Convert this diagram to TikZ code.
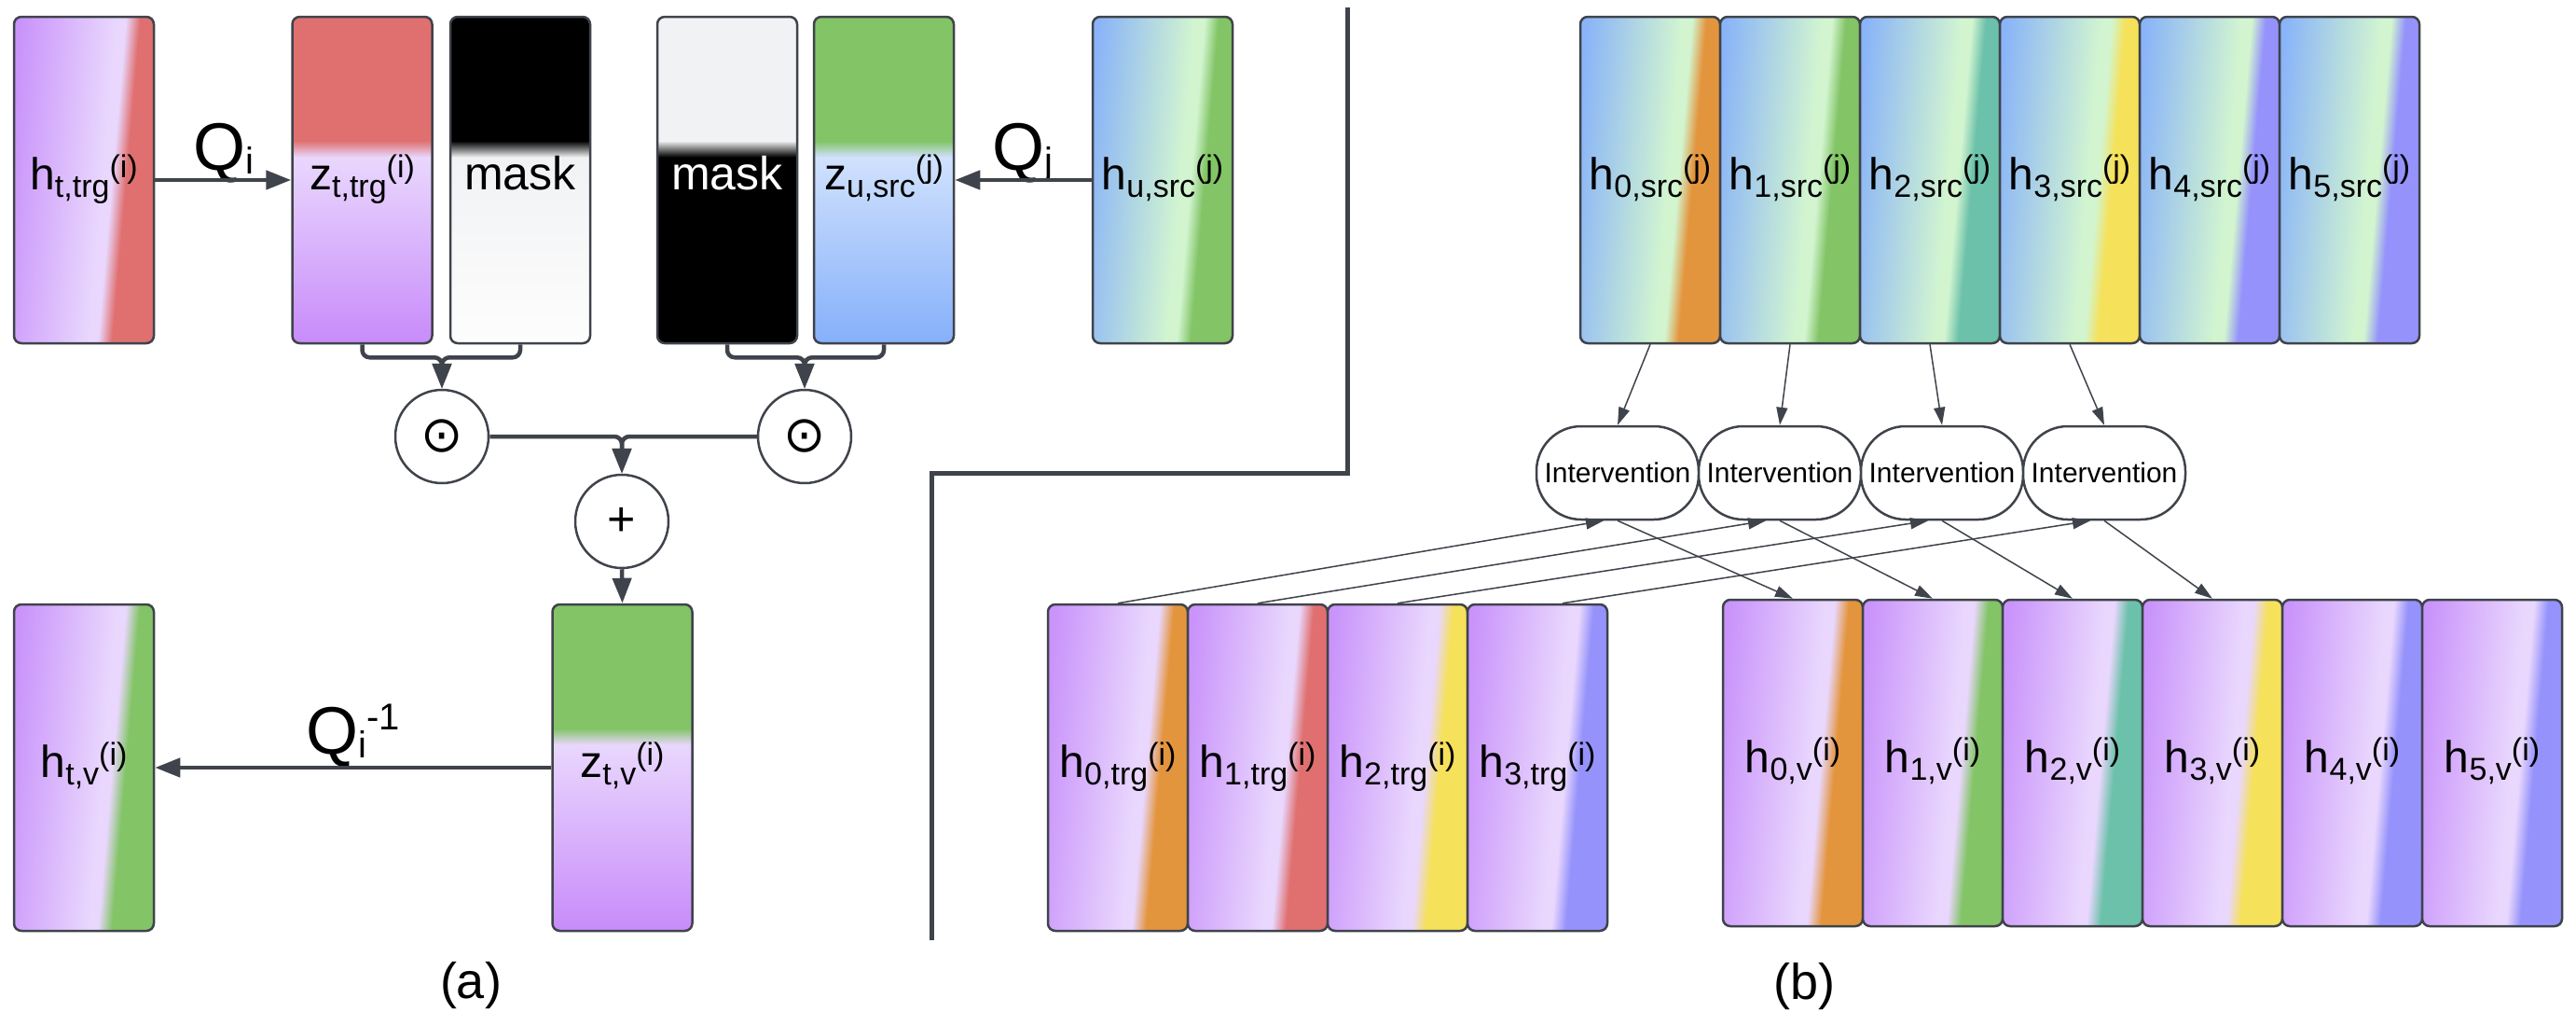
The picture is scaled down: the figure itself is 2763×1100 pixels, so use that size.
\documentclass[tikz,border=0pt]{standalone}
\usepackage{fontspec}
\setmainfont{Liberation Sans}
\newfontfamily\djv{DejaVu Sans}
\usetikzlibrary{arrows.meta}
\definecolor{edge}{HTML}{3F434B}
\definecolor{pur}{HTML}{C993FB}
\definecolor{purb}{HTML}{C88BFA}
\definecolor{lav}{HTML}{E9D7FD}
\definecolor{cred}{HTML}{E07070}
\definecolor{cgreen}{HTML}{82C466}
\definecolor{corange}{HTML}{E3953E}
\definecolor{cteal}{HTML}{6CC1AA}
\definecolor{cyellow}{HTML}{F5E15A}
\definecolor{cviolet}{HTML}{9593FB}
\definecolor{cblue}{HTML}{8AB4F8}
\definecolor{mint}{HTML}{D2F5D0}
\definecolor{zblue}{HTML}{85B0FA}
\definecolor{zlblue}{HTML}{D0E1FD}
\definecolor{mgray}{HTML}{F1F2F4}
\definecolor{mwhite}{HTML}{FDFDFD}
\newcommand\mkh[4]{\pgfdeclarehorizontalshading{#1}{100bp}{color(0bp)=(#2); color(25bp)=(#2); color(56bp)=(#3); color(59bp)=(#3); color(63.5bp)=(#4); color(100bp)=(#4)}}
\newcommand\mkz[4]{\pgfdeclareverticalshading{#1}{100bp}{color(0bp)=(#2); color(25bp)=(#2); color(53.5bp)=(#3); color(56bp)=(#4); color(100bp)=(#4)}}
\mkh{shHtrg}{pur}{lav}{cred}
\mkh{shHtv}{pur}{lav}{cgreen}
\mkh{shHsrc}{cblue}{mint}{cgreen}
\mkh{shSa}{cblue}{mint}{corange}
\mkh{shSb}{cblue}{mint}{cgreen}
\mkh{shSc}{cblue}{mint}{cteal}
\mkh{shSd}{cblue}{mint}{cyellow}
\mkh{shSe}{cblue}{mint}{cviolet}
\mkh{shTa}{pur}{lav}{corange}
\mkh{shTb}{pur}{lav}{cred}
\mkh{shTc}{pur}{lav}{cyellow}
\mkh{shTd}{pur}{lav}{cviolet}
\mkh{shVb}{pur}{lav}{cgreen}
\mkh{shVc}{pur}{lav}{cteal}
\mkz{shZtrg}{purb}{lav}{cred}
\mkz{shZtv}{purb}{lav}{cgreen}
\mkz{shZsrc}{zblue}{zlblue}{cgreen}
\mkz{shMa}{mwhite}{mgray}{black}
\mkz{shMb}{black}{black}{mgray}
\newcommand\vlab[3]{#1\raisebox{-8pt}{\fontsize{34}{34}\selectfont #2}\raisebox{13pt}{\fontsize{34}{34}\selectfont (#3)}}
\tikzset{
  hbox/.style={rectangle, minimum width=150pt, minimum height=350pt, inner sep=0pt,
    rounded corners=8pt, draw=edge, line width=2.5pt, shading=#1, shading angle=-5,
    text height=30pt, text depth=10pt, font=\fontsize{48}{50}\selectfont},
  zbox/.style={hbox=#1, shading angle=0},
  ivbox/.style={rectangle, rounded corners=48pt, minimum width=174pt, minimum height=100pt,
    draw=edge, line width=2.5pt, fill=white, inner sep=0pt, font=\fontsize{30}{32}\selectfont},
  opnode/.style={circle, minimum size=100pt, draw=edge, line width=2.5pt, fill=white, inner sep=0pt},
  bigarrow/.style={draw=edge, line width=4.5pt, rounded corners=8pt, -{Triangle[length=27pt,width=20pt]}},
  smallarrow/.style={draw=edge, line width=1.5pt, -{Triangle[length=19pt,width=12pt]}},
  qlab/.style={anchor=base, inner sep=0pt, font=\fontsize{72}{74}\selectfont},
  caption/.style={inner sep=0pt, font=\fontsize{54}{56}\selectfont},
}
\begin{document}
\begin{tikzpicture}[x=1pt,y=-1pt]
\useasboundingbox (0,0) rectangle (2763,1100);
% ---------- panel (a) ----------
\node[hbox=shHtrg] (htrg) at (90,193) {\vlab{h}{t,trg}{i}};
\node[zbox=shZtrg] (ztrg) at (388.5,193) {\vlab{z}{t,trg}{i}};
\node[zbox=shMa, font=\fontsize{50}{52}\selectfont] (m1) at (558,193) {mask};
\node[zbox=shMb, font=\fontsize{50}{52}\selectfont, text=white] (m2) at (780,193) {mask};
\node[zbox=shZsrc] (zsrc) at (948,193) {\vlab{z}{u,src}{j}};
\node[hbox=shHsrc] (hsrc) at (1247,193) {\vlab{h}{u,src}{j}};
\node[opnode] (od1) at (474,468) {\djv\fontsize{54}{56}\selectfont ⊙};
\node[opnode] (od2) at (863,468) {\djv\fontsize{54}{56}\selectfont ⊙};
\node[opnode] (plus) at (667,559) {\fontsize{52}{52}\selectfont +};
\node[hbox=shHtv] (htv) at (90,823) {\vlab{h}{t,v}{i}};
\node[zbox=shZtv] (ztv) at (667.5,823) {\vlab{z}{t,v}{i}};
\node[qlab] (qi) at (240,182) {Q\raisebox{-4pt}{\fontsize{40}{40}\selectfont i}};
\node[qlab] (qj) at (1097,182) {Q\raisebox{-4pt}{\fontsize{40}{40}\selectfont j}};
\node[qlab] (qinv) at (379,808) {Q\raisebox{-4pt}{\fontsize{40}{40}\selectfont i}\raisebox{26pt}{\fontsize{40}{40}\selectfont -1}};
\draw[bigarrow] (htrg.east) -- (ztrg.west);
\draw[bigarrow] (hsrc.west) -- (zsrc.east);
\draw[bigarrow] (ztv.west) -- (htv.east);
\draw[bigarrow] (ztrg.south) -- ++(0,14) -| (od1.north);
\draw[bigarrow] (m1.south) -- ++(0,14) -| (od1.north);
\draw[bigarrow] (m2.south) -- ++(0,14) -| (od2.north);
\draw[bigarrow] (zsrc.south) -- ++(0,14) -| (od2.north);
\draw[bigarrow] (od1.east) -| (plus.north);
\draw[bigarrow] (od2.west) -| (plus.north);
\draw[bigarrow] (plus.south) -- (ztv.north);
\node[caption] (capa) at (505,1057) {(a)};
% ---------- divider ----------
\draw[edge, line width=5pt] (1445,8) -- (1445,507) -- (999,507) -- (999,1008);
% ---------- panel (b) ----------
\node[hbox=shSa] (s0) at (1770,193) {\vlab{h}{0,src}{j}};
\node[hbox=shSb] (s1) at (1920,193) {\vlab{h}{1,src}{j}};
\node[hbox=shSc] (s2) at (2070,193) {\vlab{h}{2,src}{j}};
\node[hbox=shSd] (s3) at (2220,193) {\vlab{h}{3,src}{j}};
\node[hbox=shSe] (s4) at (2370,193) {\vlab{h}{4,src}{j}};
\node[hbox=shSe] (s5) at (2520,193) {\vlab{h}{5,src}{j}};
\node[ivbox] (i0) at (1735,507) {Intervention};
\node[ivbox] (i1) at (1909,507) {Intervention};
\node[ivbox] (i2) at (2083,507) {Intervention};
\node[ivbox] (i3) at (2257,507) {Intervention};
\node[hbox=shTa] (t0) at (1199,823) {\vlab{h}{0,trg}{i}};
\node[hbox=shTb] (t1) at (1349,823) {\vlab{h}{1,trg}{i}};
\node[hbox=shTc] (t2) at (1499,823) {\vlab{h}{2,trg}{i}};
\node[hbox=shTd] (t3) at (1649,823) {\vlab{h}{3,trg}{i}};
\node[hbox=shTa] (v0) at (1923,818) {\vlab{h}{0,v}{i}};
\node[hbox=shVb] (v1) at (2073,818) {\vlab{h}{1,v}{i}};
\node[hbox=shVc] (v2) at (2223,818) {\vlab{h}{2,v}{i}};
\node[hbox=shTc] (v3) at (2373,818) {\vlab{h}{3,v}{i}};
\node[hbox=shTd] (v4) at (2523,818) {\vlab{h}{4,v}{i}};
\node[hbox=shTd] (v5) at (2673,818) {\vlab{h}{5,v}{i}};
\foreach \k in {0,1,2,3}{
  \draw[smallarrow] (s\k.south) -- (i\k.north);
  \draw[smallarrow] (i\k.south) -- (v\k.north);
}
\draw[smallarrow] (t0.north) -- ([xshift=-15pt]i0.south);
\draw[smallarrow] (t1.north) -- ([xshift=-15pt]i1.south);
\draw[smallarrow] (t2.north) -- ([xshift=-15pt]i2.south);
\draw[smallarrow] ([xshift=27pt]t3.north) -- ([xshift=-15pt]i3.south);
\node[caption] (capb) at (1935,1058) {(b)};
\end{tikzpicture}
\end{document}
